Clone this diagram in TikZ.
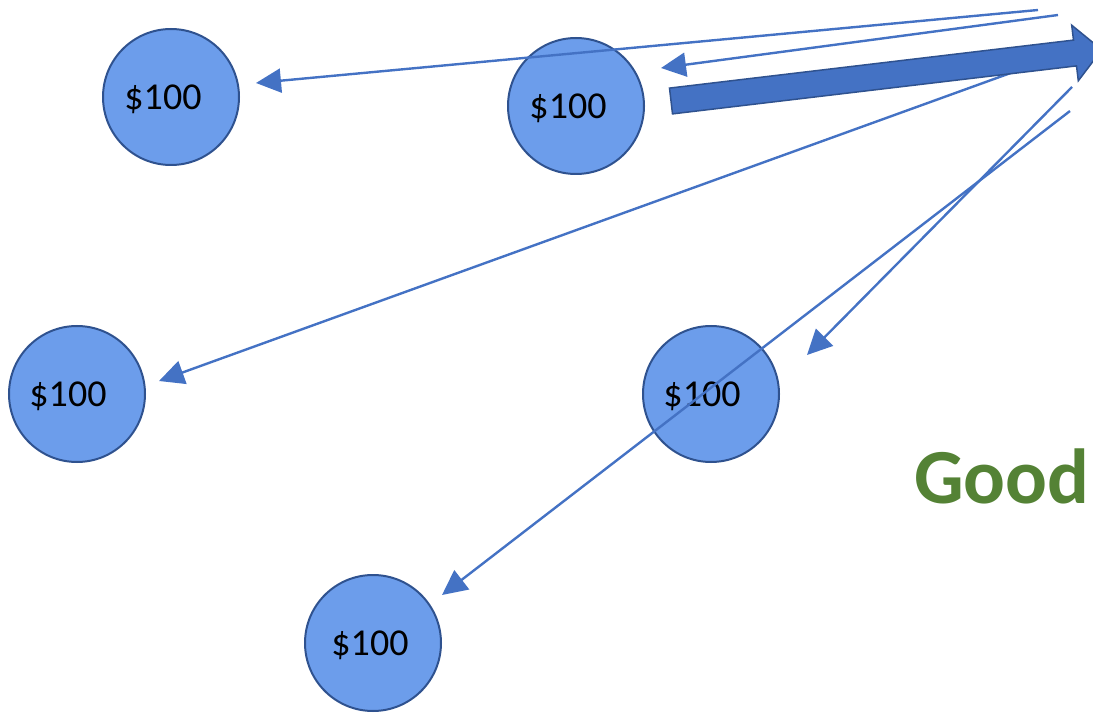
\documentclass[tikz,border=0pt]{standalone}
\usepackage{fontspec}
\setmainfont{Carlito}
\usetikzlibrary{arrows.meta}
\definecolor{coinfill}{RGB}{108,157,235}
\definecolor{coinedge}{RGB}{47,82,143}
\definecolor{flow}{RGB}{68,114,196}
\definecolor{goodgreen}{RGB}{84,130,53}
\tikzset{
  coin/.style={circle, draw=coinedge, line width=2pt, fill=coinfill,
    minimum size=136pt, inner sep=0pt},
  amount/.style={font=\fontsize{38}{44}\selectfont, text=black, inner sep=0pt},
  transfer/.style={draw=flow, line width=2.4pt,
    -{Triangle[length=25pt,width=24pt]}},
  bigarrow/.style={fill=flow, draw=coinedge, line width=1.5pt, line join=miter},
}
\begin{document}
\begin{tikzpicture}[x=1pt,y=-1pt]
\useasboundingbox (0,0) rectangle (1093,714);

% the five coins, each with its amount set a little left of centre
\node[coin] (c1) at (171,97) {};
\node[coin] (c2) at (576,106) {};
\node[coin] (c3) at (77,394) {};
\node[coin] (c4) at (711,394) {};
\node[coin] (c5) at (373,643) {};
\foreach \c/\dx in {c1/-8,c2/-8,c3/-9,c4/-9,c5/-3}
  \node[amount] at ([xshift=\dx pt,yshift=-2pt]\c.center) {\$100};

% start and end points of the transfers
\coordinate (sA) at (1038,10);
\coordinate (tA) at (256,83);
\coordinate (sB) at (1058,15);
\coordinate (tB) at (661,68);
\coordinate (sD) at (1030,66);
\coordinate (tD) at (159,381);
\coordinate (sE) at (1072,87);
\coordinate (tE) at (807,355);
\coordinate (sF) at (1070,111);
\coordinate (tF) at (442,595);

\draw[transfer] (sA) -- (tA);
\draw[transfer] (sB) -- (tB);
\draw[transfer] (sD) -- (tD);
\draw[transfer] (sE) -- (tE);
\draw[transfer] (sF) -- (tF);

% broad arrow leaving towards the right
\draw[bigarrow] (669.5,88.1) -- (1073.5,40.1) -- (1071.7,25.2) -- (1101.8,49.8)
  -- (1078.3,80.8) -- (1076.5,65.9) -- (672.5,113.9) -- cycle;

\node[anchor=base west, inner sep=0pt, text=goodgreen,
  font=\fontsize{78}{84}\selectfont\bfseries] (good) at (914,503) {Good};
\end{tikzpicture}
\end{document}
